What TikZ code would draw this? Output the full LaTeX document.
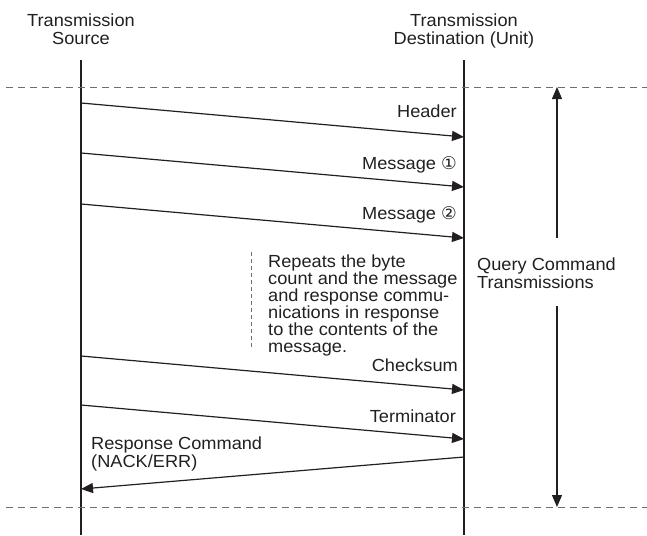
\documentclass[tikz,border=0pt]{standalone}
\usepackage{fontspec}
\setmainfont[FakeStretch=1.04]{Liberation Sans}
\newfontfamily\circfont{DejaVu Sans}
\usetikzlibrary{arrows.meta}
\definecolor{ink}{HTML}{231F20}
\definecolor{dashgray}{HTML}{6D6E70}
\tikzset{
  txt/.style={font=\fontsize{17.5}{18}\selectfont, text=ink, inner sep=0pt},
  lifeline/.style={draw=ink, line width=1.2pt},
  msg/.style={draw=ink, line width=1.2pt, -{Triangle[length=12pt,width=10pt]}},
  sep/.style={draw=dashgray, line width=0.9pt, dash pattern=on 7pt off 5pt},
  bracket/.style={draw=dashgray, line width=0.8pt, dash pattern=on 4pt off 3pt},
  span/.style={draw=ink, line width=1.2pt, -{Triangle[length=12pt,width=10pt]}}
}
\begin{document}
\begin{tikzpicture}[x=1pt,y=-1pt]
\useasboundingbox (0,0) rectangle (647,535);
% headers
\node[txt, align=center, anchor=base] (src) at (81,45) {Transmission\\Source};
\node[txt, align=center, anchor=base] (dst) at (464,45) {Transmission\\Destination (Unit)};
% lifelines
\coordinate (s0) at (81,60);  \coordinate (s1) at (81,535);
\coordinate (d0) at (464,60); \coordinate (d1) at (464,535);
\draw[lifeline] (s0) -- (s1);
\draw[lifeline] (d0) -- (d1);
% separators
\coordinate (t0) at (6,87);  \coordinate (t1) at (647,87);
\coordinate (b0) at (6,507); \coordinate (b1) at (647,507);
\draw[sep] (t0) -- (t1);
\draw[sep] (b0) -- (b1);
% messages
\coordinate (h0) at (81,103); \coordinate (h1) at (464,137);
\coordinate (m10) at (81,153); \coordinate (m11) at (464,187);
\coordinate (m20) at (81,204); \coordinate (m21) at (464,238);
\coordinate (c0) at (81,356); \coordinate (c1) at (464,390);
\coordinate (e0) at (81,405); \coordinate (e1) at (464,439);
\coordinate (r0) at (464,457); \coordinate (r1) at (81,489);
\draw[msg] (h0) -- (h1);
\draw[msg] (m10) -- (m11);
\draw[msg] (m20) -- (m21);
\draw[msg] (c0) -- (c1);
\draw[msg] (e0) -- (e1);
\draw[msg] (r0) -- (r1);
\node[txt, anchor=base east] (lh) at (457,117) {Header};
\node[txt, anchor=base east] (lm1) at (457,169) {Message {\circfont ①}};
\node[txt, anchor=base east] (lm2) at (457,219) {Message {\circfont ②}};
\node[txt, anchor=base east] (lc) at (458,371) {Checksum};
\node[txt, anchor=base east] (le) at (456,422) {Terminator};
\node[txt, align=left, anchor=base west] (lr) at (91,467) {Response Command\\(NACK/ERR)};
% repeat note
\node[txt, align=left, anchor=base west, font=\fontsize{17.5}{17}\selectfont] (note) at (268,352)
  {Repeats the byte\\count and the message\\and response commu-\\nications in response\\to the contents of the\\message.};
\coordinate (n0) at (251,252); \coordinate (n1) at (251,347);
\draw[bracket] (n0) -- (n1);
% span arrow
\node[txt, align=left, anchor=base west] (q) at (477,288) {Query Command\\Transmissions};
\coordinate (q0) at (557,238); \coordinate (q1) at (557,87);
\coordinate (q2) at (557,306); \coordinate (q3) at (557,507);
\draw[span] (q0) -- (q1);
\draw[span] (q2) -- (q3);
\end{tikzpicture}
\end{document}
